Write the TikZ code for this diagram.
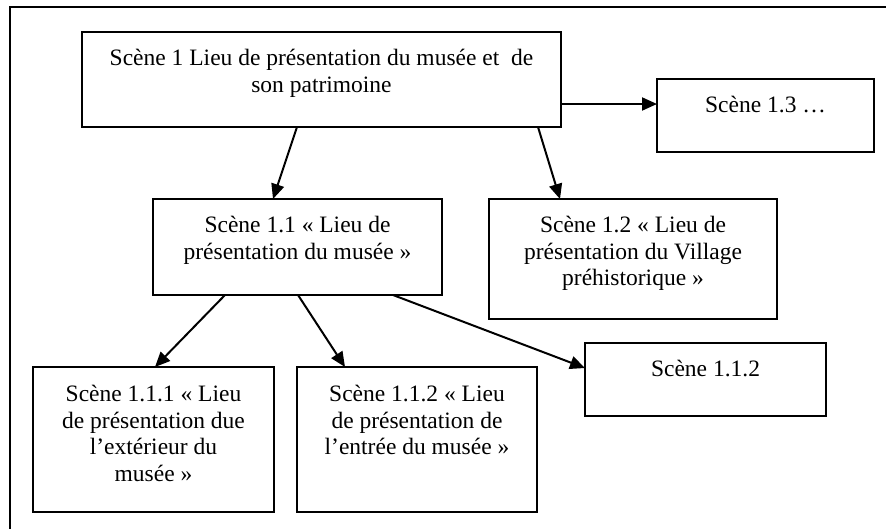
\documentclass[tikz,border=0pt]{standalone}
\usepackage{fontspec}
\setmainfont{Liberation Serif}
\usetikzlibrary{arrows.meta}
\begin{document}
\begin{tikzpicture}[x=1pt,y=-1pt,
  box/.style={draw, line width=1.5pt, anchor=north west, inner sep=0pt, outer sep=0pt},
  txt/.style={anchor=north, align=center, inner sep=0pt, font=\fontsize{23.5}{26.7}\selectfont},
  arr/.style={line width=2pt, -{Triangle[length=15pt,width=13pt]}}]
\useasboundingbox (0,0) rectangle (886,528);
\clip (0,0) rectangle (886,528);
% outer frame (left and top sides visible)
\draw[line width=1.5pt] (10,540) -- (10,7) -- (900,7);
% boxes
\node[box, minimum width=479pt, minimum height=95pt] (A) at (82,32) {};
\node[box, minimum width=217pt, minimum height=73pt] (B) at (657,79) {};
\node[box, minimum width=289pt, minimum height=96pt] (C) at (153,199) {};
\node[box, minimum width=288pt, minimum height=120pt] (D) at (489,199) {};
\node[box, minimum width=241pt, minimum height=145pt] (E) at (33,367) {};
\node[box, minimum width=240pt, minimum height=145pt] (F) at (297,367) {};
\node[box, minimum width=241pt, minimum height=73pt] (G) at (585,343) {};
% texts
\node[txt] (At) at ([yshift=-17pt]A.north) {Scène 1 Lieu de présentation du musée et\ \ de\\son patrimoine};
\node[txt] (Bt) at ([yshift=-17pt]B.north) {Scène 1.3 …};
\node[txt] (Ct) at ([yshift=-17pt]C.north) {Scène 1.1 « Lieu de\\présentation du musée »};
\node[txt] (Dt) at ([yshift=-17pt]D.north) {Scène 1.2 « Lieu de\\présentation du Village\\préhistorique »};
\node[txt] (Et) at ([yshift=-18pt]E.north) {Scène 1.1.1 « Lieu\\de présentation due\\l’extérieur du\\musée »};
\node[txt] (Ft) at ([yshift=-18pt]F.north) {Scène 1.1.2 « Lieu\\de présentation de\\l’entrée du musée »};
\node[txt] (Gt) at ([yshift=-17pt]G.north) {Scène 1.1.2};
% connectors
\draw[arr] ([xshift=215pt]A.south west) -- ([xshift=120pt]C.north west);
\draw[arr] ([xshift=456pt]A.south west) -- ([xshift=71pt]D.north west);
\draw[arr] ([yshift=-72pt]A.north east) -- ([yshift=-25pt]B.north west);
\draw[arr] ([xshift=72pt]C.south west) -- ([xshift=122pt]E.north west);
\draw[arr] ([xshift=145pt]C.south west) -- ([xshift=48pt]F.north west);
\draw[arr] ([xshift=240pt]C.south west) -- ([yshift=-25pt]G.north west);
\end{tikzpicture}
\end{document}
